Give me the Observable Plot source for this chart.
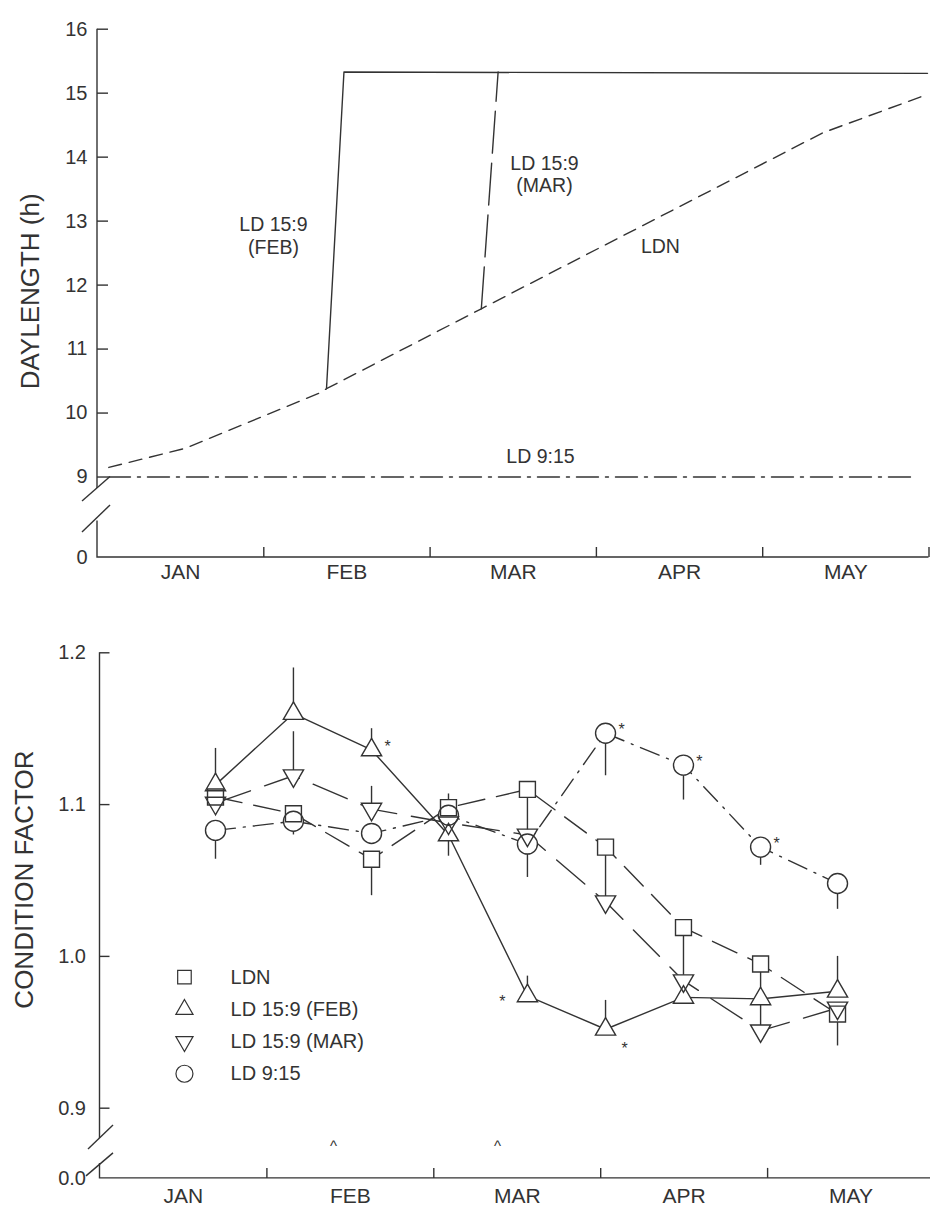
<!DOCTYPE html>
<html>
<head>
<meta charset="utf-8">
<script src="https://cdn.jsdelivr.net/npm/d3@7"></script>
<script src="https://cdn.jsdelivr.net/npm/@observablehq/plot@0.6"></script>
<style>
  body { margin: 0; background: #fff; }
  #chart svg { display: block; }
</style>
</head>
<body>
<div id="chart"></div>
<script>
// ===== DATA =====
// x is measured in months from 1 January (0 = start of JAN ... 5 = end of MAY)
const monthLabels = ["JAN", "FEB", "MAR", "APR", "MAY"];
const monthTicksTop = [1, 2, 3, 4, 5];
const monthTicksBottom = [1, 2, 3, 4];

// --- top panel: daylength (h)
const dayTicks = [0, 9, 10, 11, 12, 13, 14, 15, 16];
const ldnMonth = [0.068, 0.529, 1.341, 1.377, 2.308, 3.226, 4.361, 4.989];
const ldnHours = [9.15, 9.45, 10.32, 10.38, 11.63, 12.86, 14.38, 14.98];
const febMonth = [1.377, 1.482, 4.991];
const febHours = [10.38, 15.33, 15.31];
const marMonth = [2.308, 2.409];
const marHours = [11.63, 15.33];
const shortMonth = [0.066, 4.93];
const shortHours = [9, 9];
const topLabelText = ["LD 15:9\n(FEB)", "LD 15:9\n(MAR)", "LDN", "LD 9:15"];
const topLabelMonth = [1.058, 2.688, 3.385, 2.664];
const topLabelHours = [12.78, 13.74, 12.62, 9.34];

// --- bottom panel: condition factor
const cfTicks = [0, 0.9, 1.0, 1.1, 1.2];
const sampleMonth = [0.692, 1.159, 1.627, 2.088, 2.561, 3.029, 3.496, 3.958, 4.419];
const cfLDN = [1.105, 1.094, 1.064, 1.098, 1.110, 1.072, 1.019, 0.995, 0.962];
const cfFEB = [1.113, 1.160, 1.136, 1.080, 0.974, 0.952, 0.973, 0.972, 0.977];
const cfMAR = [1.101, 1.119, 1.097, 1.088, 1.080, 1.036, 0.984, 0.951, 0.966];
const cf915 = [1.083, 1.089, 1.081, 1.093, 1.074, 1.147, 1.126, 1.072, 1.048];
// end of the (one-sided) error bar drawn for each point; null = none visible
const errLDN = [null, null, 1.040, 1.107, 1.081, 1.039, 0.985, 0.944, 0.941];
const errFEB = [1.137, 1.190, 1.150, 1.066, 0.987, 0.971, null, null, 1.000];
const errMAR = [null, 1.148, 1.112, null, null, null, null, null, null];
const err915 = [1.064, 1.080, null, null, 1.052, 1.119, 1.103, 1.060, 1.031];
// significant differences (indices of sampling dates marked with *)
const signifFEB = [2, 4, 5];
const signif915 = [5, 6, 7];
// dates of the photoperiod switch (marked ^)
const switchMonth = [1.399, 2.382];
const seriesNames = ["LDN", "LD 15:9 (FEB)", "LD 15:9 (MAR)", "LD 9:15"];

// ===== STYLE =====
const INK = "#333";
const FONT = "'Liberation Sans', Arial, Helvetica, sans-serif";
const SW = 1.4;

// axis breaks: values below the break value are squeezed into a short gap
const breakAxis = (lo, brk, gap) => v => v >= brk ? v : brk - (brk - v) / (brk - lo) * gap;
const brkTop = breakAxis(0, 9, 1.258);     // 0..9 h  -> 1.258 h of axis
const brkBot = breakAxis(0, 0.9, 0.04625); // 0..0.9  -> 0.046 of axis

const triangleDown = {
  draw(context, size) {
    const y = Math.sqrt(size / (Math.sqrt(3) * 3));
    context.moveTo(0, y * 2);
    context.lineTo(-Math.sqrt(3) * y, -y);
    context.lineTo(Math.sqrt(3) * y, -y);
    context.closePath();
  }
};
const seriesStyle = [
  {symbol: "square", r: 9, dash: "27,12"},
  {symbol: "triangle", r: 7.5, dash: null},
  {symbol: triangleDown, r: 7.5, dash: "37,15"},
  {symbol: "circle", r: 10, dash: "20,8,2,8"}
];

const chart = document.getElementById("chart");

// ===== TOP PANEL =====
const T = {width: 930, height: 610, mL: 97, mR: 0, mT: 28.7, mB: 53};
const topFrameW = T.width - T.mL - T.mR;
const topFrameH = T.height - T.mT - T.mB;
const zip = (xs, ys) => xs.map((m, i) => ({m, v: ys[i]}));

const topPlot = Plot.plot({
  width: T.width, height: T.height,
  marginLeft: T.mL, marginRight: T.mR, marginTop: T.mT, marginBottom: T.mB,
  style: {fontFamily: FONT, color: INK, background: "#fff"},
  x: {domain: [0, 5], range: [T.mL, 928.5], axis: null},
  y: {domain: [brkTop(0), 16], axis: null},
  marks: [
    // axis lines with the scale break
    (index, {x, y}) => {
      const g = d3.create("svg:g").attr("fill", "none").attr("stroke", INK).attr("stroke-width", SW);
      const x0 = x(0), y0 = y(brkTop(0)), yb = y(9), yt = y(16);
      const paths = [
        [[x0, yt], [x0, yb + 11.5]],
        [[x0 - 15, yb + 24.5], [x0 + 13, yb]],
        [[x0 - 15, yb + 55.5], [x0 + 13, yb + 28.5]],
        [[x0, y0 - 36.5], [x0, y0], [x(5), y0]]
      ];
      for (const p of paths) g.append("path").attr("d", d3.line()(p));
      return g.node();
    },
    Plot.tickY(dayTicks.filter(d => d > 0), {y: d => brkTop(d), insetRight: topFrameW - 11, stroke: INK, strokeWidth: SW}),
    Plot.tickX(monthTicksTop, {x: d => d, insetTop: topFrameH - 10, stroke: INK, strokeWidth: SW}),
    Plot.text(dayTicks, {y: d => brkTop(d), text: d => String(d), frameAnchor: "left", textAnchor: "end", dx: -10, fontSize: 20, fill: INK}),
    Plot.text(monthLabels, {x: (d, i) => i + 0.5, text: d => d, frameAnchor: "bottom", dy: 21, fontSize: 21, fill: INK}),
    Plot.text(["DAYLENGTH (h)"], {frameAnchor: "left", textAnchor: "middle", rotate: -90, dx: -67, dy: -2, fontSize: 26, fill: INK}),
    // series
    Plot.line(zip(shortMonth, shortHours), {x: "m", y: d => brkTop(d.v), stroke: INK, strokeWidth: SW, strokeDasharray: "22,7,3,7"}),
    Plot.line(zip(ldnMonth, ldnHours), {x: "m", y: d => brkTop(d.v), stroke: INK, strokeWidth: SW, strokeDasharray: "13,8"}),
    Plot.line(zip(marMonth, marHours), {x: "m", y: d => brkTop(d.v), stroke: INK, strokeWidth: SW, strokeDasharray: "42,10"}),
    Plot.line(zip(febMonth, febHours), {x: "m", y: d => brkTop(d.v), stroke: INK, strokeWidth: SW}),
    Plot.text(topLabelText, {x: (d, i) => topLabelMonth[i], y: (d, i) => brkTop(topLabelHours[i]), text: d => d, fontSize: 19.5, lineHeight: 1.17, fill: INK})
  ]
});
chart.appendChild(topPlot);

// ===== BOTTOM PANEL =====
const B = {width: 930, height: 605, mL: 99.5, mR: 0, mT: 42.3, mB: 37.1};
const botFrameW = B.width - B.mL - B.mR;
const botFrameH = B.height - B.mT - B.mB;
const cfValues = [cfLDN, cfFEB, cfMAR, cf915];
const cfErr = [errLDN, errFEB, errMAR, err915];
const rows = seriesNames.flatMap((s, k) => sampleMonth.map((m, i) => ({s, k, i, m, v: cfValues[k][i], e: cfErr[k][i]})));
const rowsOf = k => rows.filter(r => r.k === k);
const star = (k, idx) => rows.filter(r => r.k === k && idx.includes(r.i));

const LEG_X = 0.506, LEG_TEXT_X = 0.782, LEG_TOP = 0.9863, LEG_STEP = 0.0212;
const legendRows = seriesNames.map((s, k) => ({s, k, y: LEG_TOP - k * LEG_STEP}));

const botPlot = Plot.plot({
  width: B.width, height: B.height,
  marginLeft: B.mL, marginRight: B.mR, marginTop: B.mT, marginBottom: B.mB,
  style: {fontFamily: FONT, color: INK, background: "#fff"},
  x: {domain: [0, 5], range: [B.mL, 934], axis: null},
  y: {domain: [brkBot(0), 1.2], axis: null},
  marks: [
    (index, {x, y}) => {
      const g = d3.create("svg:g").attr("fill", "none").attr("stroke", INK).attr("stroke-width", SW);
      const x0 = x(0), y0 = y(brkBot(0)), yt = y(1.2);
      const paths = [
        [[x0, yt], [x0, y0 - 40]],
        [[x0 - 11.5, y0 - 29], [x0 + 13.5, y0 - 53]],
        [[x0 - 13.5, y0 - 2], [x0 + 13.5, y0 - 25]],
        [[x0, y0 - 15], [x0, y0], [x(5), y0]]
      ];
      for (const p of paths) g.append("path").attr("d", d3.line()(p));
      return g.node();
    },
    Plot.tickY(cfTicks.filter(d => d > 0), {y: d => brkBot(d), insetRight: botFrameW - 10, stroke: INK, strokeWidth: SW}),
    Plot.tickX(monthTicksBottom, {x: d => d, insetTop: botFrameH - 10, stroke: INK, strokeWidth: SW}),
    Plot.text(cfTicks, {y: d => brkBot(d), text: d => d.toFixed(1), frameAnchor: "left", textAnchor: "end", dx: -14, fontSize: 20, fill: INK}),
    Plot.text(monthLabels, {x: (d, i) => i + 0.5, text: d => d, frameAnchor: "bottom", dy: 25, fontSize: 21, fill: INK}),
    Plot.text(["CONDITION FACTOR"], {frameAnchor: "left", textAnchor: "middle", rotate: -90, dx: -75.5, dy: -36, fontSize: 26, fill: INK}),
    Plot.text(switchMonth, {x: d => d, text: () => "^", frameAnchor: "bottom", dy: -27, fontSize: 15, fill: INK}),
    // connecting lines
    ...seriesStyle.map((st, k) => Plot.line(rowsOf(k), {x: "m", y: "v", stroke: INK, strokeWidth: SW, strokeDasharray: st.dash || undefined})),
    // error bars
    Plot.ruleX(rows.filter(r => r.e != null), {x: "m", y1: "v", y2: "e", stroke: INK, strokeWidth: SW}),
    // markers: white interiors, then outlines
    ...seriesStyle.map((st, k) => Plot.dot(rowsOf(k), {x: "m", y: "v", symbol: st.symbol, r: st.r, fill: "white", stroke: "none"})),
    ...seriesStyle.map((st, k) => Plot.dot(rowsOf(k), {x: "m", y: "v", symbol: st.symbol, r: st.r, fill: "none", stroke: INK, strokeWidth: SW})),
    // significance asterisks
    Plot.text([...star(1, [2]), ...star(3, signif915)], {x: "m", y: "v", text: () => "*", dx: 16, dy: -3, fontSize: 16, fill: INK}),
    Plot.text(star(1, [4]), {x: "m", y: "v", text: () => "*", dx: -25, dy: 6, fontSize: 16, fill: INK}),
    Plot.text(star(1, [5]), {x: "m", y: "v", text: () => "*", dx: 19, dy: 20, fontSize: 16, fill: INK}),
    // legend
    ...seriesStyle.map((st, k) => Plot.dot([legendRows[k]], {x: () => LEG_X, y: "y", symbol: st.symbol, r: st.r * 0.85, fill: "none", stroke: INK, strokeWidth: 1.2})),
    Plot.text(legendRows, {x: () => LEG_TEXT_X, y: "y", text: "s", textAnchor: "start", fontSize: 20, fill: INK})
  ]
});
chart.appendChild(botPlot);
</script>
</body>
</html>
